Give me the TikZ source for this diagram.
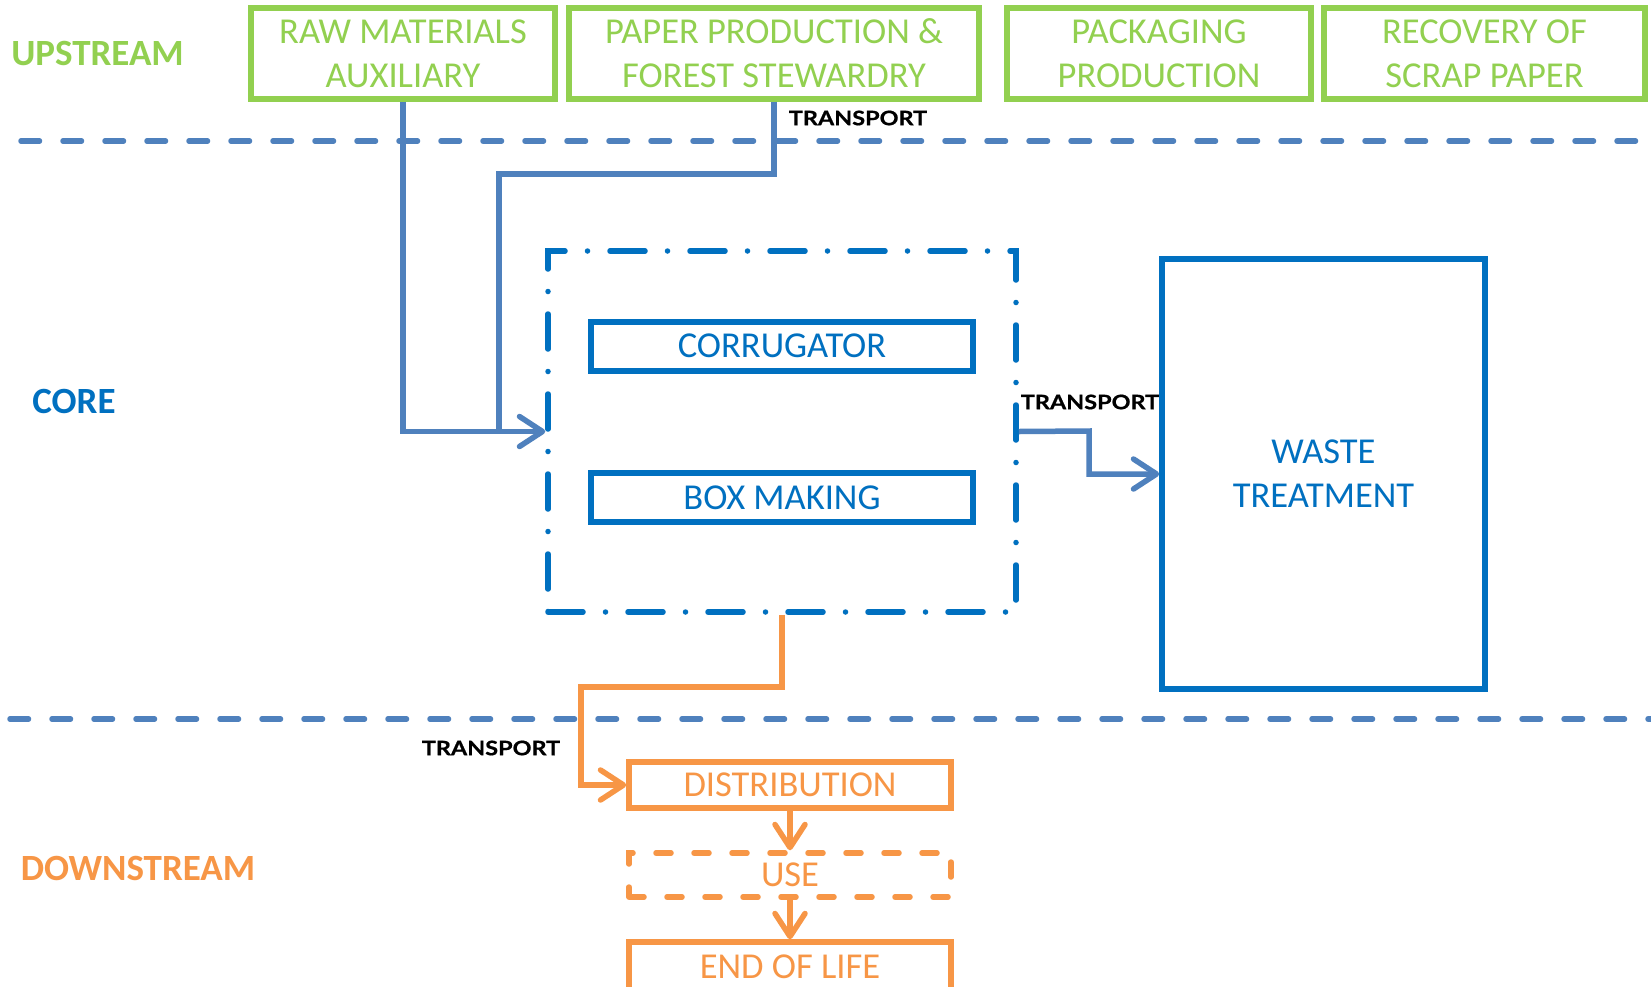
\documentclass[tikz,border=0pt]{standalone}
\usepackage{fontspec}
\setmainfont{Carlito}
\newfontfamily\tfont{Lato}[BoldFeatures={FakeStretch=1.17,FakeBold=0.8}]
\usetikzlibrary{arrows.meta}
\definecolor{cgreen}{HTML}{92D050}
\definecolor{cblue}{HTML}{0070C0}
\definecolor{clink}{HTML}{4F81BD}
\definecolor{corange}{HTML}{F79646}
\tikzset{
  upbox/.style={draw=cgreen, line width=5.5pt, text=cgreen, minimum width=#1, minimum height=91pt,
     inner sep=0pt, align=center, font=\fontsize{36.5}{44}\selectfont},
  coreproc/.style={draw=cblue, line width=6pt, text=cblue, minimum width=382pt, minimum height=49pt,
     inner sep=0pt, font=\fontsize{36.5}{44}\selectfont},
  downbox/.style={draw=corange, line width=5.5pt, text=corange, minimum width=322pt, minimum height=#1,
     inner sep=0pt, font=\fontsize{36.5}{44}\selectfont},
  zonelabel/.style={font=\bfseries\fontsize{37}{44}\selectfont, inner sep=0pt},
  translabel/.style={font=\tfont\bfseries\fontsize{20}{24}\selectfont, text=black, inner sep=0pt},
  sepline/.style={draw=clink, line width=5.5pt, line cap=round, dash pattern=on 18.5pt off 23.5pt},
  linkline/.style={draw=clink, line width=5.5pt},
  olink/.style={draw=corange, line width=5.5pt},
  vtip/.style={-{Straight Barb[length=23pt,width=30pt,round]}}
}
\begin{document}
\begin{tikzpicture}[x=1pt,y=-1pt]
\useasboundingbox[fill=white] (0,0) rectangle (1651,986);

% separators
\draw[sepline] (21,141) -- (1651,141);
\draw[sepline] (10,719) -- (1651,719);

% zone labels
\node[zonelabel, text=cgreen] (lup) at (97.5,53) {UPSTREAM};
\node[zonelabel, text=cblue] (lcore) at (74,401) {CORE};
\node[zonelabel, text=corange] (ldown) at (138,868) {DOWNSTREAM};

% upstream boxes
\node[upbox=304pt] (raw) at (403,53.5) {RAW MATERIALS\\AUXILIARY};
\node[upbox=410pt] (paper) at (774,53.5) {PAPER PRODUCTION \&\\FOREST STEWARDRY};
\node[upbox=304pt] (pack) at (1159,53.5) {PACKAGING\\PRODUCTION};
\node[upbox=321pt] (recov) at (1484.5,53.5) {RECOVERY OF\\SCRAP PAPER};

% core
\node[draw=cblue, line width=5.5pt, line cap=round, dash pattern=on 35pt off 22.5pt on 0pt off 22.5pt,
      minimum width=468pt, minimum height=361pt, inner sep=0pt] (core) at (782,431.5) {};
\node[coreproc] (corr) at (782,346) {CORRUGATOR};
\node[coreproc] (boxm) at (782,497.5) {BOX MAKING};
\node[draw=cblue, line width=5.5pt, text=cblue, minimum width=323pt, minimum height=430pt,
      inner sep=0pt, align=center, font=\fontsize{36.5}{44}\selectfont] (waste) at (1323.5,474) {WASTE\\TREATMENT};

% downstream
\node[downbox=46pt] (dist) at (790,785) {DISTRIBUTION};
\node[downbox=44pt, dash pattern=on 15pt off 23pt, line cap=round] (use) at (790,875) {USE};
\node[downbox=50pt] (eol) at (790,967) {END OF LIFE};

% transport labels
\node[translabel] (t1) at (858,118) {TRANSPORT};
\node[translabel] (t2) at (1090,402) {TRANSPORT};
\node[translabel] (t3) at (491,748) {TRANSPORT};

% connectors
\coordinate (j1) at (499,174);
\coordinate (j2) at (499,431);
\coordinate (w1) at (1089,431);
\coordinate (w2) at (1089,474);
\coordinate (o1) at (581,687);

\draw[linkline] (paper.south) |- (j1) -- (j2);
\draw[linkline, vtip] (raw.south) |- (core.west);
\draw[linkline, vtip] (core.east) -- (w1) -- (w2) -- (waste.west);
\draw[olink, vtip] (core.south) |- (o1) |- (dist.west);
\draw[olink, vtip] (dist.south) -- (use.north);
\draw[olink, vtip] (use.south) -- (eol.north);
\end{tikzpicture}
\end{document}
